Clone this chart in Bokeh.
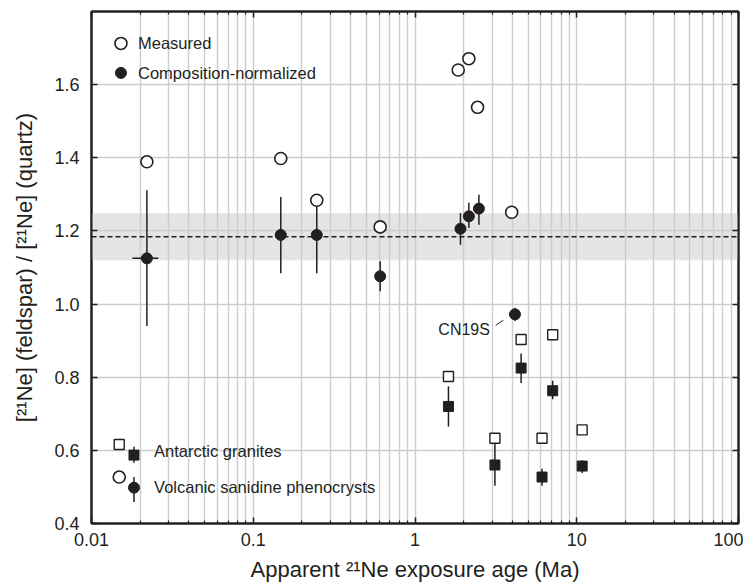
from bokeh.plotting import figure
from bokeh.models import (FixedTicker, CustomJSTickFormatter, PrintfTickFormatter,
                          LinearAxis, LogAxis, BoxAnnotation, Span, Label)
from bokeh.embed import file_html
from bokeh.resources import INLINE

FONT = "Liberation Sans"
INK = "#231f20"

# ---- Volcanic sanidine phenocrysts (circles) ----
vol_meas_age = [0.022, 0.148, 0.247, 0.609, 1.85, 2.153, 2.437, 3.96]
vol_meas_ratio = [1.389, 1.398, 1.284, 1.211, 1.640, 1.671, 1.538, 1.251]
vol_norm_age = [0.022, 0.148, 0.247, 0.609, 1.91, 2.153, 2.484, 4.15]
vol_norm_ratio = [1.125, 1.189, 1.189, 1.076, 1.206, 1.240, 1.261, 0.972]
vol_norm_lo = [0.940, 1.084, 1.084, 1.035, 1.162, 1.208, 1.217, 0.954]
vol_norm_hi = [1.311, 1.293, 1.270, 1.117, 1.249, 1.277, 1.299, 0.990]
# horizontal (age) uncertainty of the youngest sample
vol_age_err_lo = [0.0179]
vol_age_err_hi = [0.0259]
vol_age_err_y = [1.125]

# ---- Antarctic granites (squares) ----
gra_age = [1.61, 3.12, 4.53, 6.1, 7.1, 10.8]
gra_meas_ratio = [0.802, 0.633, 0.903, 0.633, 0.916, 0.656]
gra_norm_ratio = [0.720, 0.560, 0.825, 0.527, 0.763, 0.557]
gra_norm_lo = [0.665, 0.503, 0.784, 0.503, 0.740, 0.538]
gra_norm_hi = [0.775, 0.619, 0.865, 0.550, 0.790, 0.573]

# ---- mean ratio and its band ----
mean_ratio = 1.184
band_low = 1.120
band_high = 1.248

# ---- axis ticks ----
x_major = [0.01, 0.1, 1, 10, 100]
x_minor = [k * 10.0 ** e for e in range(-2, 2) for k in range(2, 10)]
y_major = [0.4, 0.6, 0.8, 1.0, 1.2, 1.4, 1.6]

# ---- upper-left legend (symbol positions) ----
leg_sym_x = [0.01521]
leg_text_x = 0.01939
leg_texts = ["Measured", "Composition-normalized"]
leg_y = [1.7127, 1.6321]

# ---- lower-left key (symbol positions) ----
key_open_x = [0.01484]
key_fill_x = [0.01831]
key_sq_open_y = [0.616]
key_sq_fill_y = [0.587]
key_sq_err = [0.610, 0.566]
key_ci_open_y = [0.527]
key_ci_fill_y = [0.498]
key_ci_err = [0.527, 0.459]
key_text_x = 0.02438
key_texts = ["Antarctic  granites", "Volcanic sanidine phenocrysts"]
key_text_y = [0.598, 0.500]

p = figure(width=743, height=585, x_axis_type="log",
           x_range=(0.01, 100), y_range=(0.4, 1.8),
           output_backend="svg", toolbar_location=None,
           min_border_left=91, min_border_right=5,
           min_border_top=11, min_border_bottom=62)
p.background_fill_color = "white"
p.outline_line_color = INK
p.outline_line_width = 2

# band + mean line
band = BoxAnnotation(bottom=band_low, top=band_high, fill_color="#e4e4e6",
                     fill_alpha=1.0, line_color=None, level="image")
p.add_layout(band)
p.add_layout(Span(location=mean_ratio, dimension="width", line_color=INK,
                  line_width=1.4, line_dash="5 3"))

# grids
p.xgrid.grid_line_color = "#cdcdcd"
p.xgrid.grid_line_width = 1.4
p.xgrid.minor_grid_line_color = "#cdcdcd"
p.xgrid.minor_grid_line_width = 1.4
p.ygrid.grid_line_color = "#cdcdcd"
p.ygrid.grid_line_width = 1.4

xt = FixedTicker(ticks=x_major, minor_ticks=x_minor)
yt = FixedTicker(ticks=y_major)
p.xaxis.ticker = xt
p.yaxis.ticker = yt
p.xgrid.ticker = xt
p.ygrid.ticker = yt
p.xaxis.formatter = CustomJSTickFormatter(code="return tick.toString();")
p.yaxis.formatter = PrintfTickFormatter(format="%.1f")

for ax in (p.xaxis[0], p.yaxis[0]):
    ax.axis_line_color = INK
    ax.axis_line_width = 2
    ax.major_tick_in = 6
    ax.major_tick_out = 0
    ax.major_tick_line_color = INK
    ax.major_tick_line_width = 1.5
    ax.major_label_text_font = FONT
    ax.major_label_text_font_size = "18px"
    ax.major_label_text_color = INK
    ax.axis_label_text_font = FONT
    ax.axis_label_text_font_size = "22px"
    ax.axis_label_text_font_style = "normal"
    ax.axis_label_text_color = INK

p.xaxis.minor_tick_in = 3
p.xaxis.minor_tick_out = 0
p.xaxis.minor_tick_line_color = INK
p.xaxis.minor_tick_line_width = 1.2
p.yaxis.minor_tick_line_color = None
p.xaxis.major_label_standoff = 9
p.yaxis.major_label_standoff = 12
p.xaxis.axis_label = "Apparent \u00b2\u00b9Ne exposure age (Ma)"
p.yaxis.axis_label = "[\u00b2\u00b9Ne] (feldspar) / [\u00b2\u00b9Ne] (quartz)"
p.xaxis.axis_label_standoff = 8
p.yaxis.axis_label_standoff = 14

blank = CustomJSTickFormatter(code="return '';")
top_ax = LogAxis(ticker=xt, formatter=blank, axis_line_color=INK, axis_line_width=2,
                 major_tick_in=6, major_tick_out=0, major_tick_line_color=INK,
                 major_tick_line_width=1.5, minor_tick_in=3, minor_tick_out=0,
                 minor_tick_line_color=INK, minor_tick_line_width=1.2,
                 major_label_standoff=0, major_label_text_font_size="1px")
p.add_layout(top_ax, "above")
right_ax = LinearAxis(ticker=yt, formatter=blank, axis_line_color=INK, axis_line_width=2,
                      major_tick_in=6, major_tick_out=0, major_tick_line_color=INK,
                      major_tick_line_width=1.5, minor_tick_line_color=None,
                      major_label_standoff=0, major_label_text_font_size="1px")
p.add_layout(right_ax, "right")

# error bars
p.segment(x0=vol_norm_age, x1=vol_norm_age, y0=vol_norm_lo, y1=vol_norm_hi,
          line_color=INK, line_width=1.5)
p.segment(x0=vol_age_err_lo, x1=vol_age_err_hi, y0=vol_age_err_y, y1=vol_age_err_y,
          line_color=INK, line_width=1.5)
p.segment(x0=gra_age, x1=gra_age, y0=gra_norm_lo, y1=gra_norm_hi,
          line_color=INK, line_width=1.5)

# markers
p.scatter(vol_meas_age, vol_meas_ratio, marker="circle", size=12,
          fill_color="white", line_color=INK, line_width=1.6)
p.scatter(vol_norm_age, vol_norm_ratio, marker="circle", size=11,
          fill_color=INK, line_color=INK, line_width=1)
p.scatter(gra_age, gra_meas_ratio, marker="square", size=10,
          fill_color="white", line_color=INK, line_width=1.4)
p.scatter(gra_age, gra_norm_ratio, marker="square", size=10,
          fill_color=INK, line_color=INK, line_width=1)

# CN19S annotation
cn_i = 7
p.segment(x0=[vol_norm_age[cn_i] * 0.76], x1=[vol_norm_age[cn_i] * 0.848],
          y0=[vol_norm_ratio[cn_i] - 0.030], y1=[vol_norm_ratio[cn_i] - 0.016],
          line_color=INK, line_width=1)
p.add_layout(Label(x=vol_norm_age[cn_i] * 0.70, y=vol_norm_ratio[cn_i] - 0.041,
                   text="CN19S", text_font=FONT, text_font_size="16px",
                   text_color=INK, text_align="right", text_baseline="middle"))

# upper-left legend
p.scatter(leg_sym_x, [leg_y[0]], marker="circle", size=12,
          fill_color="white", line_color=INK, line_width=1.6)
p.scatter(leg_sym_x, [leg_y[1]], marker="circle", size=11,
          fill_color=INK, line_color=INK)
for t, ty in zip(leg_texts, leg_y):
    p.add_layout(Label(x=leg_text_x, y=ty, text=t, text_font=FONT,
                       text_font_size="16.5px", text_color=INK,
                       text_baseline="middle"))

# lower-left key
p.segment(x0=key_fill_x * 2, x1=key_fill_x * 2, y0=[key_sq_err[0], key_ci_err[0]],
          y1=[key_sq_err[1], key_ci_err[1]], line_color=INK, line_width=1.5)
p.scatter(key_open_x, key_sq_open_y, marker="square", size=10,
          fill_color="white", line_color=INK, line_width=1.4)
p.scatter(key_fill_x, key_sq_fill_y, marker="square", size=10,
          fill_color=INK, line_color=INK)
p.scatter(key_open_x, key_ci_open_y, marker="circle", size=12,
          fill_color="white", line_color=INK, line_width=1.6)
p.scatter(key_fill_x, key_ci_fill_y, marker="circle", size=11,
          fill_color=INK, line_color=INK)
for t, ty in zip(key_texts, key_text_y):
    p.add_layout(Label(x=key_text_x, y=ty, text=t, text_font=FONT,
                       text_font_size="16.5px", text_color=INK,
                       text_baseline="middle"))

open("out.html", "w").write(file_html(p, INLINE))
